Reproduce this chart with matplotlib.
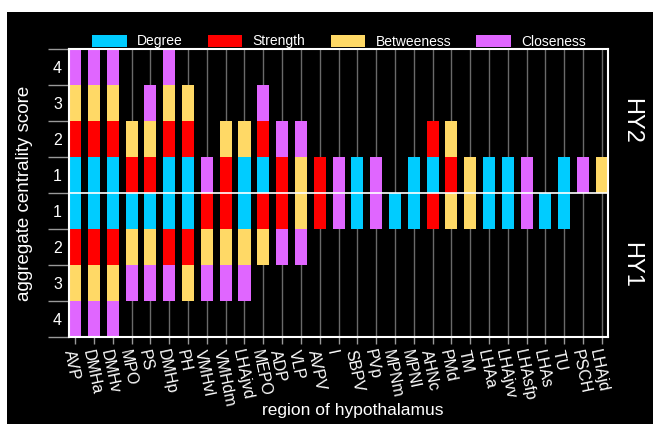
import matplotlib
matplotlib.use("Agg")
import matplotlib.pyplot as plt
from matplotlib.patches import Rectangle, Patch
import numpy as np

plt.rcParams['font.family'] = ['Liberation Sans', 'DejaVu Sans']

regions = ["AVP", "DMHa", "DMHv", "MPO", "PS", "DMHp", "PH", "VMHvl", "VMHdm", "LHAjvd",
           "MEPO", "ADP", "VLP", "AVPV", "I", "SBPV", "PVp", "MPNm", "MPNl", "AHNc",
           "PMd", "TM", "LHAa", "LHAjvv", "LHAsfp", "LHAs", "TU", "PSCH", "LHAjd"]

measures = ["Degree", "Strength", "Betweeness", "Closeness"]
colors = ["#00CCFF", "#FF0000", "#FFD966", "#E066FF"]

# HY2 (upper half) membership per measure
degree_hy2     = [1,1,1,0,0,1,1,0,0,1, 1,0,0,0,0,1,0,0,1,1, 0,0,1,1,0,0,1,0,0]
strength_hy2   = [1,1,1,1,1,1,1,0,1,0, 1,1,0,1,0,0,0,0,0,1, 1,0,0,0,0,0,0,0,0]
betweeness_hy2 = [1,1,1,1,1,1,1,0,1,1, 0,0,1,0,0,0,0,0,0,0, 1,1,0,0,0,0,0,0,1]
closeness_hy2  = [1,1,1,0,1,1,0,1,0,0, 1,1,1,0,1,0,1,0,0,0, 0,0,0,0,1,0,0,1,0]

# HY1 (lower half) membership per measure
degree_hy1     = [1,1,1,1,1,1,1,0,0,1, 0,0,0,0,0,1,0,1,1,0, 0,0,1,1,0,1,1,0,0]
strength_hy1   = [1,1,1,0,0,1,1,1,1,0, 1,1,0,1,0,0,0,0,0,1, 0,0,0,0,0,0,0,0,0]
betweeness_hy1 = [1,1,1,1,1,0,1,1,1,1, 1,0,1,0,0,0,0,0,0,0, 1,1,0,0,0,0,0,0,0]
closeness_hy1  = [1,1,1,1,1,1,0,1,1,1, 0,1,1,0,1,0,1,0,0,0, 0,0,0,0,1,0,0,0,0]

hy2 = [degree_hy2, strength_hy2, betweeness_hy2, closeness_hy2]
hy1 = [degree_hy1, strength_hy1, betweeness_hy1, closeness_hy1]

ytick_labels = ["4", "3", "2", "1", "1", "2", "3", "4"]

W, H = 653, 424
fig = plt.figure(figsize=(W/100, H/100), dpi=100, facecolor="white")
fig.patches.append(Rectangle((7/W, 0), 1 - 7/W, 1 - 12/H, transform=fig.transFigure,
                             facecolor="black", edgecolor="none", zorder=-10))

ax = fig.add_axes([69/W, 1 - 337/H, (607.7 - 69)/W, (337 - 49)/H])
ax.set_facecolor("black")

x = np.arange(len(regions))
width = 0.64

for xi in x:
    ax.axvline(xi, color="#6a6a6a", lw=1.0, zorder=0)

bottom_up = np.zeros(len(regions))
bottom_dn = np.zeros(len(regions))
for vals_up, vals_dn, c, name in zip(hy2, hy1, colors, measures):
    up = np.array(vals_up, dtype=float)
    dn = np.array(vals_dn, dtype=float)
    ax.bar(x, up, width, bottom=bottom_up, color=c, zorder=2, linewidth=0)
    ax.bar(x, -dn, width, bottom=-bottom_dn, color=c, zorder=2, linewidth=0)
    bottom_up += up
    bottom_dn += dn

ax.axhline(0, color="white", lw=1.2, zorder=3)

ax.set_xlim(-0.33, len(regions) - 1 + 0.31)
ax.set_ylim(-4, 4)

for s in ax.spines.values():
    s.set_color("white")
    s.set_linewidth(1.5)
    s.set_zorder(4)

ax.set_xticks(x)
ax.set_xticklabels(regions, rotation=-78, ha="left", va="top", rotation_mode="anchor",
                   fontsize=11.5, color="white")
ax.tick_params(axis="x", colors="#999999", length=5, width=1, labelcolor="white", pad=3)

ax.set_yticks(np.arange(-4, 5))
ax.set_yticklabels([])
ax.tick_params(axis="y", which="major", colors="#999999", length=15, width=1)
ax.set_yticks(np.arange(-3.5, 4, 1.0), minor=True)
ax.set_yticklabels(ytick_labels[::-1], minor=True, fontsize=11.5, color="white")
ax.tick_params(axis="y", which="minor", length=0, pad=5, labelcolor="white")

fig.text(25/W, 1 - 193/H, "aggregate centrality score", rotation=90, color="white",
         fontsize=13.5, ha="center", va="center")
fig.text(353/W, 1 - 411/H, "region of hypothalamus", color="white",
         fontsize=12.5, ha="center", va="center")

fig.text(631/W, 1 - 121/H, "HY2", rotation=-90, color="white", fontsize=17,
         ha="center", va="center")
fig.text(631/W, 1 - 265/H, "HY1", rotation=-90, color="white", fontsize=17,
         ha="center", va="center")

handles = [Patch(facecolor=c, edgecolor="none", label=m) for m, c in zip(measures, colors)]
leg = fig.legend(handles=handles, loc="center", bbox_to_anchor=(339/W, 1 - 41.5/H),
                 ncol=4, frameon=False, fontsize=10, handlelength=2.5, handleheight=1.0,
                 handletextpad=0.75, columnspacing=1.8)
for t in leg.get_texts():
    t.set_color("white")

fig.savefig("out.png", dpi=100, facecolor=fig.get_facecolor())
